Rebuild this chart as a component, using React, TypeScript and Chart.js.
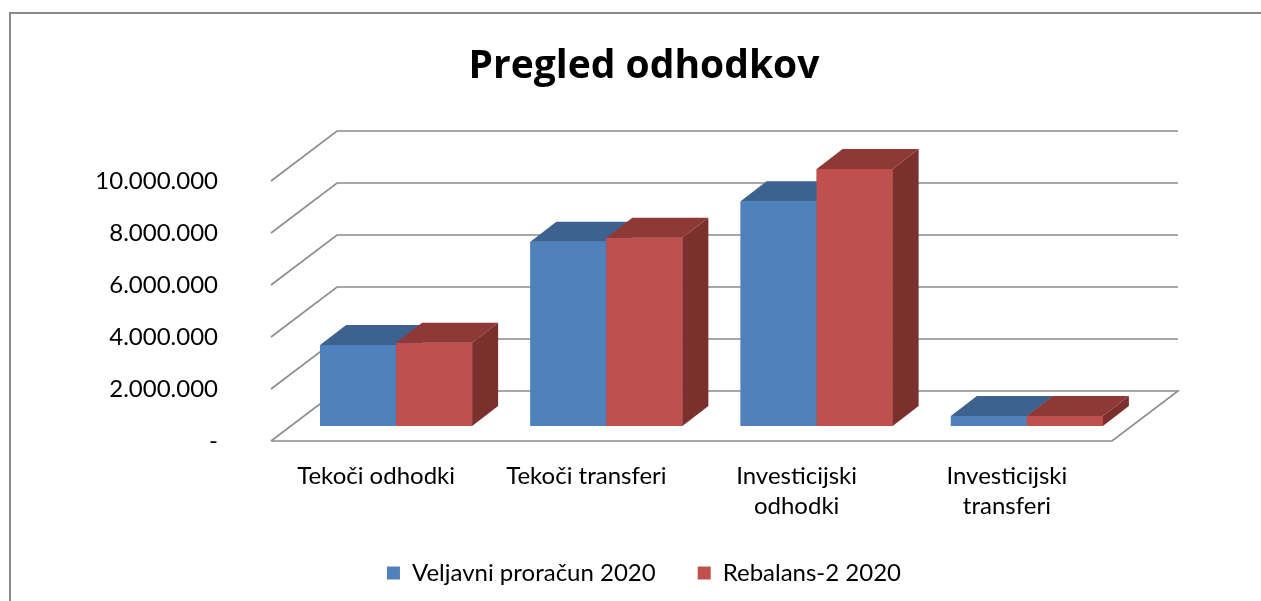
import React, { useEffect, useRef } from "react";
import { Chart, registerables } from "chart.js";

Chart.register(...registerables);

const TITLE = "Pregled odhodkov";
const categories: (string | string[])[] = [
  "Tekoči odhodki",
  "Tekoči transferi",
  ["Investicijski", "odhodki"],
  ["Investicijski", "transferi"],
];
const seriesNames = ["Veljavni proračun 2020", "Rebalans-2 2020"];
const veljavni = [3115000, 7090000, 8640000, 385000];
const rebalans = [3200000, 7240000, 9880000, 385000];
const yTickValues = [0, 2000000, 4000000, 6000000, 8000000, 10000000];

const FONT = "Lato";
const FRONT_COLORS = ["#4F81BD", "#C0504D"];
const TOP_COLORS = ["#3D6290", "#8F3937"];
const SIDE_COLORS = ["#35567F", "#7B302E"];
const GRID_COLOR = "#8c8c8c";

// oblique 3D offsets (relative to the bars' front plane)
const FRONT_OFF = { dx: -20, dy: 15 };
const BACK_OFF = { dx: 46, dy: -35 };
const BAR_DEPTH = { dx: 26, dy: -20 };

function formatNum(v: number): string {
  if (v === 0) return "-";
  return String(Math.round(v)).replace(/\B(?=(\d{3})+(?!\d))/g, ".");
}

const threeD = {
  id: "threeD",
  beforeDatasetsDraw(chart: any) {
    const { ctx, chartArea, scales } = chart;
    const y = scales.y;
    ctx.save();
    ctx.strokeStyle = GRID_COLOR;
    ctx.lineWidth = 1.6;
    for (const v of yTickValues) {
      const py = y.getPixelForValue(v);
      ctx.beginPath();
      ctx.moveTo(chartArea.left + FRONT_OFF.dx, py + FRONT_OFF.dy);
      ctx.lineTo(chartArea.left + BACK_OFF.dx, py + BACK_OFF.dy);
      ctx.lineTo(chartArea.right + BACK_OFF.dx, py + BACK_OFF.dy);
      if (v === 0) {
        ctx.lineTo(chartArea.right + FRONT_OFF.dx, py + FRONT_OFF.dy);
        ctx.lineTo(chartArea.left + FRONT_OFF.dx, py + FRONT_OFF.dy);
      }
      ctx.stroke();
    }
    ctx.restore();
  },
  afterDatasetsDraw(chart: any) {
    const { ctx } = chart;
    ctx.save();
    const n = chart.data.datasets.length;
    const count = chart.data.labels.length;
    for (let j = 0; j < count; j++) {
      for (let i = 0; i < n; i++) {
        const meta = chart.getDatasetMeta(i);
        const el = meta.data[j];
        if (!el) continue;
        const { x, y, base, width } = el.getProps(["x", "y", "base", "width"], true);
        const l = x - width / 2;
        const r = x + width / 2;
        const t = Math.min(y, base);
        const b = Math.max(y, base);
        ctx.fillStyle = FRONT_COLORS[i];
        ctx.fillRect(l, t, r - l, b - t);
        ctx.fillStyle = TOP_COLORS[i];
        ctx.beginPath();
        ctx.moveTo(l, t);
        ctx.lineTo(l + BAR_DEPTH.dx, t + BAR_DEPTH.dy);
        ctx.lineTo(r + BAR_DEPTH.dx, t + BAR_DEPTH.dy);
        ctx.lineTo(r, t);
        ctx.closePath();
        ctx.fill();
        ctx.fillStyle = SIDE_COLORS[i];
        ctx.beginPath();
        ctx.moveTo(r, t);
        ctx.lineTo(r + BAR_DEPTH.dx, t + BAR_DEPTH.dy);
        ctx.lineTo(r + BAR_DEPTH.dx, b + BAR_DEPTH.dy);
        ctx.lineTo(r, b);
        ctx.closePath();
        ctx.fill();
      }
    }
    ctx.restore();
  },
};

export default function App() {
  const ref = useRef<HTMLCanvasElement | null>(null);
  useEffect(() => {
    if (!ref.current) return;
    const chart = new Chart(ref.current, {
      type: "bar",
      data: {
        labels: categories,
        datasets: [
          {
            label: seriesNames[0],
            data: veljavni,
            backgroundColor: FRONT_COLORS[0],
            borderWidth: 0,
          },
          {
            label: seriesNames[1],
            data: rebalans,
            backgroundColor: FRONT_COLORS[1],
            borderWidth: 0,
          },
        ],
      },
      options: {
        responsive: false,
        animation: false,
        layout: { padding: { left: 27, right: 0, top: 0, bottom: 6 } },
        datasets: {
          bar: { categoryPercentage: 0.723, barPercentage: 1 },
        },
        plugins: {
          title: {
            display: true,
            text: TITLE,
            color: "#000",
            font: { family: "Open Sans", size: 39, weight: "bold", lineHeight: 1.2 },
            padding: { top: 43, bottom: 76.2 },
          },
          legend: {
            display: true,
            position: "bottom",
            labels: {
              color: "#000",
              font: { family: FONT, size: 24 },
              boxWidth: 13,
              boxHeight: 13,
              padding: 42,
            },
          },
          tooltip: { enabled: false },
        },
        scales: {
          x: {
            grid: { display: false },
            border: { display: false },
            ticks: {
              color: "#000",
              font: { family: FONT, size: 24, lineHeight: 1.25 },
              padding: 27,
              labelOffset: FRONT_OFF.dx,
              maxRotation: 0,
              autoSkip: false,
            },
            afterFit: (s: any) => {
              s.height = 93;
            },
          },
          y: {
            min: 0,
            max: 10000000,
            grid: { display: false },
            border: { display: false },
            afterBuildTicks: (s: any) => {
              s.ticks = yTickValues.map((v) => ({ value: v }));
            },
            ticks: {
              color: "#000",
              font: { family: FONT, size: 24 },
              padding: 65,
              labelOffset: FRONT_OFF.dy,
              callback: (v: any) => formatNum(Number(v)),
            },
            afterFit: (s: any) => {
              s.width = 264;
            },
          },
          ySpace: {
            position: "right",
            min: 0,
            max: 1,
            grid: { display: false },
            border: { display: false },
            ticks: { display: false },
            afterFit: (s: any) => {
              s.width = 129;
            },
          },
        },
      },
      plugins: [threeD],
    });
    return () => chart.destroy();
  }, []);

  return (
    <div
      style={{
        position: "absolute",
        left: 0,
        top: 0,
        width: 1261,
        height: 601,
        overflow: "hidden",
        background: "#fff",
      }}
    >
      <div
        style={{
          position: "absolute",
          left: 9,
          top: 12,
          width: 1400,
          height: 800,
          borderLeft: "2px solid #8a8a8a",
          borderTop: "2px solid #8a8a8a",
        }}
      />
      <canvas
        ref={ref}
        width={1261}
        height={601}
        style={{ position: "absolute", left: 0, top: 0, width: 1261, height: 601 }}
      />
    </div>
  );
}
